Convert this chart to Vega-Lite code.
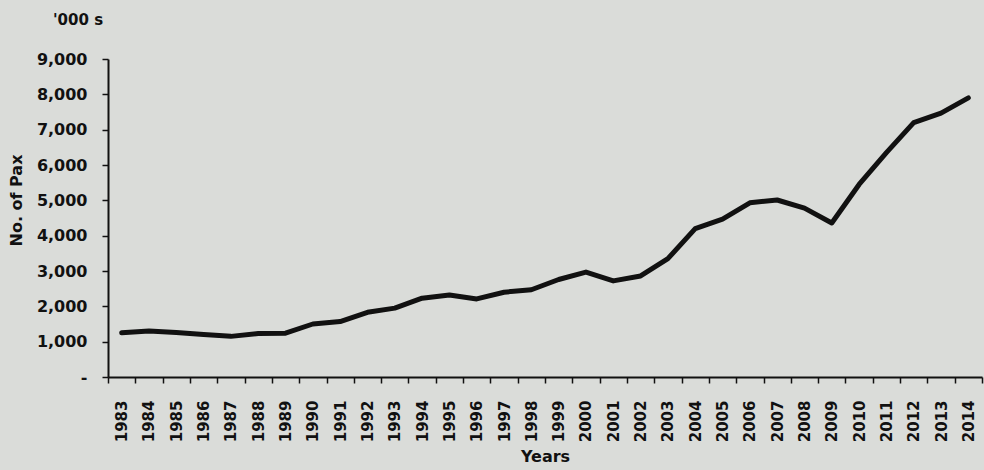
{
  "$schema": "https://vega.github.io/schema/vega-lite/v6.json",
  "width": 874,
  "height": 318,
  "autosize": {"type": "none"},
  "padding": {"left": 108, "top": 59, "right": 2, "bottom": 93},
  "background": "#dadcd9",
  "title": {
    "text": "'000 s",
    "anchor": "start",
    "frame": "group",
    "dx": -55,
    "offset": 23,
    "font": "DejaVu Sans",
    "fontSize": 15,
    "fontWeight": "bold",
    "color": "#111111"
  },
  "config": {
    "view": {"stroke": null},
    "axis": {
      "labelFont": "DejaVu Sans",
      "titleFont": "DejaVu Sans",
      "labelColor": "#111111",
      "titleColor": "#111111",
      "domainColor": "#111111",
      "tickColor": "#111111",
      "domainWidth": 2,
      "tickWidth": 1.5,
      "grid": false
    }
  },
  "data": {
    "values": [
      {"year": "1983", "pax": 1250},
      {"year": "1984", "pax": 1300},
      {"year": "1985", "pax": 1260},
      {"year": "1986", "pax": 1200},
      {"year": "1987", "pax": 1150},
      {"year": "1988", "pax": 1230},
      {"year": "1989", "pax": 1240},
      {"year": "1990", "pax": 1500},
      {"year": "1991", "pax": 1570},
      {"year": "1992", "pax": 1830},
      {"year": "1993", "pax": 1950},
      {"year": "1994", "pax": 2230},
      {"year": "1995", "pax": 2320},
      {"year": "1996", "pax": 2210},
      {"year": "1997", "pax": 2400},
      {"year": "1998", "pax": 2470},
      {"year": "1999", "pax": 2760},
      {"year": "2000", "pax": 2970},
      {"year": "2001", "pax": 2720},
      {"year": "2002", "pax": 2860},
      {"year": "2003", "pax": 3350},
      {"year": "2004", "pax": 4200},
      {"year": "2005", "pax": 4470},
      {"year": "2006", "pax": 4930},
      {"year": "2007", "pax": 5010},
      {"year": "2008", "pax": 4780},
      {"year": "2009", "pax": 4360},
      {"year": "2010", "pax": 5450},
      {"year": "2011", "pax": 6350},
      {"year": "2012", "pax": 7200},
      {"year": "2013", "pax": 7470},
      {"year": "2014", "pax": 7900}
    ]
  },
  "mark": {"type": "line", "color": "#111111", "strokeWidth": 5, "strokeCap": "round", "strokeJoin": "round"},
  "encoding": {
    "x": {
      "field": "year",
      "type": "ordinal",
      "scale": {"type": "band", "paddingInner": 0, "paddingOuter": 0},
      "axis": {
        "title": "Years",
        "titleFontSize": 16,
        "titleFontWeight": "bold",
        "titleY": 71,
        "labelAngle": -90,
        "labelFontSize": 15,
        "labelFontWeight": "bold",
        "labelPadding": 17,
        "tickBand": "extent",
        "tickSize": 6
      }
    },
    "y": {
      "field": "pax",
      "type": "quantitative",
      "scale": {"domain": [0, 9000], "nice": false},
      "axis": {
        "title": "No. of Pax",
        "titleFontSize": 16,
        "titleFontWeight": "bold",
        "titleX": -84,
        "titleY": 141,
        "values": [0, 1000, 2000, 3000, 4000, 5000, 6000, 7000, 8000, 9000],
        "labelExpr": "datum.value == 0 ? '-\u00a0\u00a0\u00a0\u00a0\u00a0' : format(datum.value, ',')",
        "labelFontSize": 16,
        "labelFontWeight": "bold",
        "labelPadding": 15,
        "tickSize": 6
      }
    }
  }
}
